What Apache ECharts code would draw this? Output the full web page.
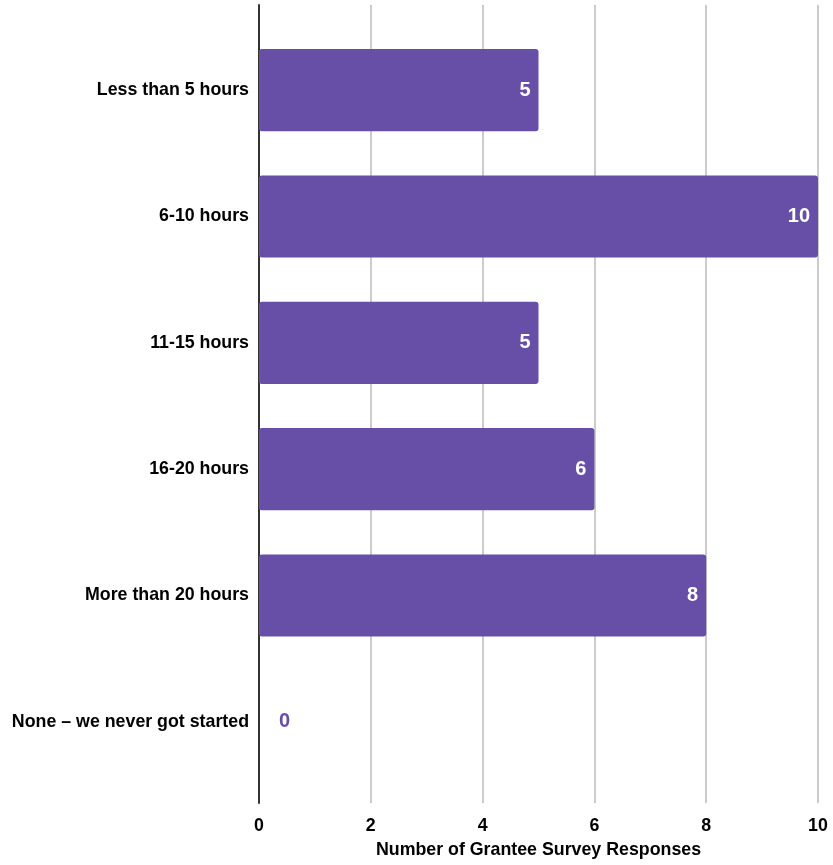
<!DOCTYPE html>
<html><head><meta charset="utf-8">
<script src="https://cdn.jsdelivr.net/npm/echarts@6/dist/echarts.min.js"></script>
<style>html,body{margin:0;padding:0;background:#fff}#c{width:833px;height:865px}</style>
</head><body><div id="c"></div>
<script>
const categories = ["Less than 5 hours","6-10 hours","11-15 hours","16-20 hours","More than 20 hours","None \u2013 we never got started"];
const values = [5,10,5,6,8,0];
const xTicks = [0,2,4,6,8,10];
const axisTitle = "Number of Grantee Survey Responses";

const purple = '#674ea7';
const font = 'Liberation Sans, Arial, sans-serif';
const chart = echarts.init(document.getElementById('c'));
chart.setOption({
  animation:false,
  grid:[
    {left:259, width:559, top:5, height:798, containLabel:false},
    {left:259, width:559, top:27, height:758, containLabel:false}
  ],
  xAxis:[
    {gridIndex:0, type:'value', min:xTicks[0], max:xTicks[xTicks.length-1], interval:2,
     axisLine:{show:false}, axisTick:{show:false},
     splitLine:{show:true, lineStyle:{color:'#cccccc', width:2}},
     axisLabel:{color:'#000', fontWeight:'bold', fontSize:17.8, fontFamily:font, margin:14},
     name:axisTitle, nameLocation:'middle', nameGap:38,
     nameTextStyle:{color:'#000', fontWeight:'bold', fontSize:17.8, fontFamily:font}},
    {gridIndex:1, type:'value', min:xTicks[0], max:xTicks[xTicks.length-1], show:false}
  ],
  yAxis:[
    {gridIndex:0, type:'value', min:0, max:1, axisLabel:{show:false}, splitLine:{show:false},
     axisTick:{show:false}, axisLine:{show:true, lineStyle:{color:'#333', width:2}}},
    {gridIndex:1, type:'category', data:categories, inverse:true,
     axisLine:{show:false}, axisTick:{show:false},
     axisLabel:{color:'#000', fontWeight:'bold', fontSize:17.8, fontFamily:font, margin:10}}
  ],
  series:[{
    type:'bar', xAxisIndex:1, yAxisIndex:1, data:values.map(v=>({value:v, label: v===0 ? {position:'right', distance:20, color:purple} : {}})),
    barCategoryGap:'35%',
    itemStyle:{color:purple, borderRadius:3},
    label:{show:true, position:'insideRight', distance:8, color:'#fff', fontWeight:'bold', fontSize:20, fontFamily:font}
  }]
});
</script></body></html>
